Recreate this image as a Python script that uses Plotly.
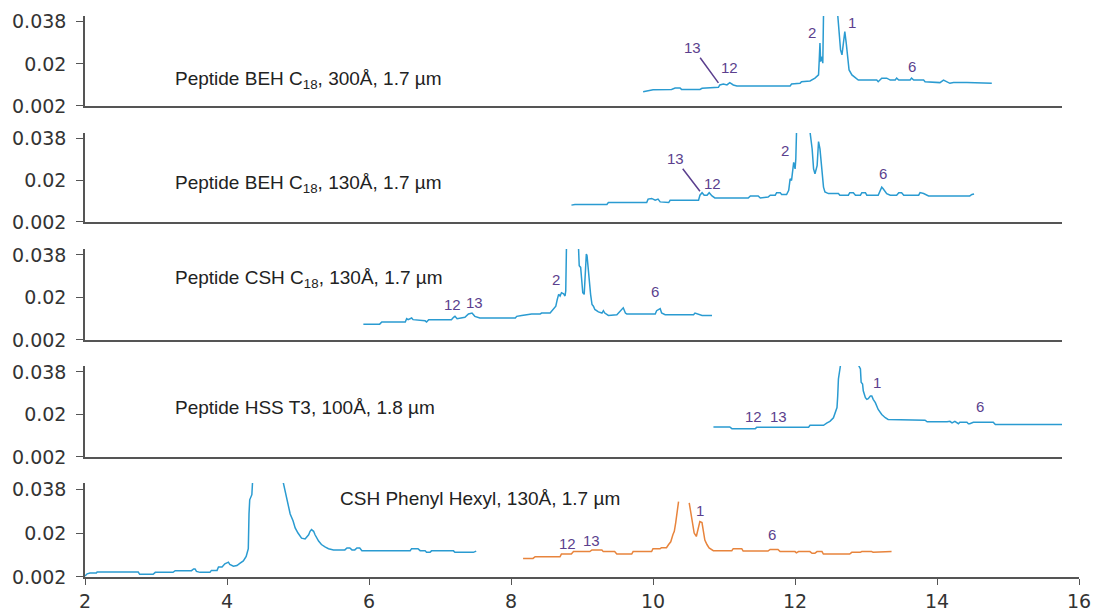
import plotly.graph_objects as go

TOP = 0.041  # signal runs off the top of the panel (clipped)

# Panel 1: Peptide BEH C18, 300Å
p1_x = [9.86, 9.93, 10.00, 10.26, 10.31, 10.38, 10.40, 10.66, 10.69, 10.92, 10.94, 10.99, 11.04, 11.08, 11.13, 11.18,
        11.93, 11.95, 12.07, 12.09, 12.21, 12.28, 12.33, 12.34, 12.35, 12.36, 12.38, 12.39, 12.40, None,
        12.60, 12.61, 12.62, 12.64, 12.66, 12.68, 12.70, 12.72, 12.74, 12.76, 12.80, 12.85, 12.89, 13.15, 13.17,
        13.22, 13.29, 13.34, 13.41, 13.43, 13.46, 13.62, 13.64, 13.67, 13.81, 13.83, 13.95, 14.04, 14.09, 14.14,
        14.18, 14.23, 14.32, 14.42, 14.77]
p1_y = [0.0081, 0.0086, 0.0089, 0.0091, 0.0097, 0.0097, 0.0091, 0.0091, 0.0096, 0.0100, 0.0110, 0.0114, 0.0110, 0.0120, 0.0110, 0.0106,
        0.0106, 0.0114, 0.0117, 0.0124, 0.0127, 0.0139, 0.0153, 0.0217, 0.0289, 0.0210, 0.0231, 0.0203, TOP, None,
        TOP, 0.0374, 0.0332, 0.0260, 0.0239, 0.0303, 0.0338, 0.0289, 0.0217, 0.0174, 0.0153, 0.0139, 0.0131, 0.0131, 0.0124,
        0.0139, 0.0139, 0.0131, 0.0131, 0.0139, 0.0131, 0.0131, 0.0139, 0.0131, 0.0131, 0.0124, 0.0120, 0.0120, 0.0131, 0.0124,
        0.0117, 0.0120, 0.0121, 0.0120, 0.0117]

# Panel 2: Peptide BEH C18, 130Å
p2_x = [8.85, 8.90, 9.35, 9.37, 9.91, 9.93, 9.98, 10.03, 10.07, 10.10, 10.22, 10.24, 10.64, 10.66, 10.69, 10.72, 10.76,
        10.79, 10.83, 10.87, 11.34, 11.37, 11.48, 11.51, 11.62, 11.65, 11.72, 11.74, 11.79, 11.81, 11.88, 11.91, 11.93,
        11.95, 11.98, 12.00, 12.01, 12.02, None, 12.21, 12.24, 12.26, 12.28, 12.31, 12.32, 12.33, 12.35, 12.38, 12.40,
        12.42, 12.47, 12.61, 12.63, 12.75, 12.77, 12.82, 12.85, 12.92, 12.94, 12.99, 13.01, 13.17, 13.20, 13.22, 13.24,
        13.29, 13.34, 13.43, 13.46, 13.50, 13.53, 13.74, 13.76, 13.81, 13.88, 14.46, 14.49, 14.52]
p2_y = [0.0093, 0.0096, 0.0096, 0.0104, 0.0104, 0.0119, 0.0122, 0.0114, 0.0119, 0.0107, 0.0104, 0.0114, 0.0114, 0.0136, 0.0147, 0.0136, 0.0136,
        0.0147, 0.0133, 0.0124, 0.0124, 0.0133, 0.0133, 0.0124, 0.0128, 0.0136, 0.0136, 0.0147, 0.0147, 0.0139, 0.0139, 0.0157, 0.0207,
        0.0200, 0.0278, 0.0250, 0.0293, TOP, None, TOP, 0.0336, 0.0250, 0.0229, 0.0264, 0.0336, 0.0368, 0.0336, 0.0221, 0.0171,
        0.0150, 0.0143, 0.0143, 0.0136, 0.0136, 0.0147, 0.0147, 0.0136, 0.0136, 0.0147, 0.0147, 0.0136, 0.0136, 0.0157, 0.0171, 0.0164,
        0.0143, 0.0136, 0.0136, 0.0147, 0.0147, 0.0136, 0.0136, 0.0147, 0.0143, 0.0133, 0.0133, 0.0139, 0.0141]

# Panel 3: Peptide CSH C18, 130Å
p3_x = [5.92, 6.15, 6.18, 6.51, 6.53, 6.55, 6.60, 6.62, 6.79, 6.81, 6.84, 7.16, 7.19, 7.21, 7.24, 7.28, 7.35, 7.40,
        7.45, 7.49, 7.56, 8.06, 8.08, 8.15, 8.20, 8.24, 8.29, 8.41, 8.43, 8.55, 8.60, 8.63, 8.65, 8.67, 8.69, 8.71,
        8.74, 8.76, 8.77, 8.78, None, 8.95, 8.96, 8.98, 9.00, 9.01, 9.03, 9.04, 9.06, 9.07, 9.09, 9.10, 9.12, 9.14,
        9.16, 9.18, 9.23, 9.28, 9.30, 9.32, 9.37, 9.49, 9.54, 9.58, 9.61, 9.63, 10.03, 10.05, 10.10, 10.12, 10.17,
        10.57, 10.59, 10.64, 10.69, 10.83]
p3_y = [0.0087, 0.0087, 0.0096, 0.0096, 0.0110, 0.0106, 0.0113, 0.0106, 0.0101, 0.0096, 0.0106, 0.0106, 0.0116, 0.0120, 0.0110, 0.0113, 0.0116, 0.0130,
        0.0134, 0.0120, 0.0113, 0.0113, 0.0120, 0.0124, 0.0127, 0.0127, 0.0130, 0.0130, 0.0134, 0.0134, 0.0153, 0.0163, 0.0191, 0.0213, 0.0206, 0.0220,
        0.0215, 0.0206, 0.0227, TOP, None, TOP, 0.0334, 0.0327, 0.0270, 0.0220, 0.0213, 0.0299, 0.0384, 0.0377, 0.0299, 0.0270, 0.0213, 0.0170,
        0.0163, 0.0149, 0.0139, 0.0134, 0.0144, 0.0134, 0.0124, 0.0127, 0.0144, 0.0156, 0.0134, 0.0130, 0.0130, 0.0144, 0.0153, 0.0134, 0.0127,
        0.0127, 0.0134, 0.0130, 0.0124, 0.0124]

# Panel 4: Peptide HSS T3, 100Å
p4_x = [10.85, 11.08, 11.11, 11.44, 11.46, 12.19, 12.21, 12.40, 12.45, 12.49, 12.54, 12.56, 12.59, 12.60, 12.61, 12.64,
        None, 12.89, 12.92, 12.93, 12.95, 12.96, 12.99, 13.01, 13.03, 13.06, 13.08, 13.10, 13.13, 13.17, 13.22, 13.27,
        13.31, 13.83, 13.86, 14.14, 14.18, 14.21, 14.25, 14.30, 14.32, 14.42, 14.44, 14.46, 14.51, 14.79, 14.82, 15.76]
p4_y = [0.0147, 0.0147, 0.0140, 0.0140, 0.0146, 0.0146, 0.0154, 0.0154, 0.0164, 0.0171, 0.0186, 0.0207, 0.0229, 0.0278, 0.0350, TOP,
        None, TOP, 0.0393, 0.0336, 0.0329, 0.0300, 0.0271, 0.0264, 0.0267, 0.0278, 0.0278, 0.0264, 0.0250, 0.0221, 0.0200, 0.0186,
        0.0179, 0.0176, 0.0169, 0.0169, 0.0171, 0.0164, 0.0171, 0.0161, 0.0167, 0.0167, 0.0161, 0.0161, 0.0167, 0.0167, 0.0157, 0.0157]

# Panel 5 (blue): CSH Phenyl Hexyl, first segment
p5a_x = [2.00, 2.03, 2.07, 2.16, 2.17, 2.75, 2.77, 2.96, 2.99, 3.24, 3.27, 3.50, 3.53, 3.55, 3.57, 3.62, 3.76, 3.78,
         3.86, 3.88, 3.93, 3.97, 4.02, 4.04, 4.09, 4.14, 4.18, 4.23, 4.27, 4.29, 4.30, 4.31, 4.32, 4.35, 4.36, None,
         4.79, 4.82, 4.84, 4.86, 4.89, 4.93, 4.96, 5.00, 5.05, 5.10, 5.15, 5.17, 5.19, 5.22, 5.24, 5.29, 5.33, 5.38,
         5.43, 5.50, 5.66, 5.69, 5.73, 5.76, 5.80, 5.83, 5.87, 5.90, 5.94, 5.97, 6.15, 6.18, 6.58, 6.60, 6.69, 6.72,
         6.79, 6.81, 6.86, 6.88, 7.19, 7.21, 7.38, 7.40, 7.47, 7.51]
p5a_y = [0.0024, 0.0033, 0.0036, 0.0036, 0.0040, 0.0040, 0.0031, 0.0031, 0.0039, 0.0039, 0.0046, 0.0046, 0.0053, 0.0053, 0.0043, 0.0039, 0.0039, 0.0047,
         0.0047, 0.0061, 0.0061, 0.0074, 0.0081, 0.0071, 0.0064, 0.0067, 0.0076, 0.0086, 0.0104, 0.0136, 0.0136, 0.0278, 0.0336, 0.0357, TOP, None,
         TOP, 0.0371, 0.0336, 0.0307, 0.0278, 0.0250, 0.0221, 0.0200, 0.0179, 0.0176, 0.0193, 0.0207, 0.0214, 0.0207, 0.0193, 0.0167, 0.0153, 0.0143,
         0.0136, 0.0131, 0.0131, 0.0139, 0.0139, 0.0131, 0.0131, 0.0139, 0.0139, 0.0128, 0.0128, 0.0131, 0.0131, 0.0128, 0.0128, 0.0136, 0.0136, 0.0128,
         0.0128, 0.0121, 0.0121, 0.0127, 0.0127, 0.0121, 0.0121, 0.0119, 0.0121, 0.0126]

# Panel 5 (orange): CSH Phenyl Hexyl, second segment
p5b_x = [8.17, 8.31, 8.34, 8.69, 8.71, 8.85, 8.88, 9.11, 9.14, 9.28, 9.30, 9.46, 9.49, 9.70, 9.72, 9.98, 10.00, 10.10,
         10.12, 10.19, 10.22, 10.25, 10.28, 10.30, 10.32, 10.34, 10.36, None, 10.51, 10.53, 10.56, 10.58, 10.61, 10.62,
         10.64, 10.66, 10.69, 10.71, 10.73, 10.76, 10.79, 10.85, 11.11, 11.13, 11.25, 11.27, 11.62, 11.65, 11.76, 11.79,
         12.00, 12.02, 12.05, 12.21, 12.24, 12.28, 12.31, 12.38, 12.40, 12.77, 12.80, 12.92, 12.94, 13.08, 13.10, 13.36]
p5b_y = [0.0096, 0.0096, 0.0103, 0.0103, 0.0114, 0.0114, 0.0124, 0.0124, 0.0131, 0.0131, 0.0124, 0.0124, 0.0114, 0.0114, 0.0124, 0.0124, 0.0136, 0.0136,
         0.0140, 0.0140, 0.0153, 0.0164, 0.0193, 0.0207, 0.0243, 0.0293, 0.0329, None, 0.0324, 0.0293, 0.0243, 0.0200, 0.0186, 0.0200,
         0.0229, 0.0247, 0.0243, 0.0207, 0.0171, 0.0153, 0.0139, 0.0128, 0.0128, 0.0136, 0.0136, 0.0126, 0.0126, 0.0133, 0.0133, 0.0124,
         0.0124, 0.0119, 0.0124, 0.0124, 0.0117, 0.0117, 0.0124, 0.0124, 0.0114, 0.0114, 0.0121, 0.0121, 0.0124, 0.0124, 0.0121, 0.0124]

panel_titles = ["Peptide BEH C<sub>18</sub>, 300Å, 1.7 µm",
                "Peptide BEH C<sub>18</sub>, 130Å, 1.7 µm",
                "Peptide CSH C<sub>18</sub>, 130Å, 1.7 µm",
                "Peptide HSS T3, 100Å, 1.8 µm",
                "CSH Phenyl Hexyl, 130Å, 1.7 µm"]
title_x = [3.24, 3.24, 3.24, 3.24, 5.56]
title_y = [0.0131, 0.0183, 0.0277, 0.0230, 0.0341]

# Peak labels: (panel, text, x, y)
peak_labels = [
    (1, "12", 11.08, 0.0183), (1, "2", 12.24, 0.0333), (1, "1", 12.80, 0.0376), (1, "6", 13.65, 0.0187),
    (2, "12", 10.83, 0.0187), (2, "2", 11.86, 0.0329), (2, "1", 12.42, 0.0427), (2, "6", 13.24, 0.0230),
    (3, "12", 7.17, 0.0170), (3, "13", 7.49, 0.0179), (3, "2", 8.63, 0.0277), (3, "1", 9.20, 0.0419), (3, "6", 10.03, 0.0226),
    (4, "12", 11.41, 0.0191), (4, "13", 11.76, 0.0191), (4, "1", 13.15, 0.0337), (4, "6", 14.61, 0.0234),
    (5, "12", 8.80, 0.0157), (5, "13", 9.14, 0.0170), (5, "1", 10.66, 0.0294), (5, "6", 11.68, 0.0196),
]
# Leader-line labels: (panel, text, label x, label y, point x, point y)
leader_labels = [(1, "13", 10.56, 0.0269, 10.92, 0.0119),
                 (2, "13", 10.31, 0.0294, 10.66, 0.0153)]

y_ticks = [0.002, 0.02, 0.038]
y_ticktext = ["0.002", "0.02", "0.038"]
x_ticks = [2, 4, 6, 8, 10, 12, 14, 16]

BLUE = "#2a9bd1"
ORANGE = "#e8843c"
PURPLE = "#5b3f8e"
AXIS = "#555555"

domains = [(0.8396, 1.0), (0.6328, 0.7914), (0.4225, 0.5847), (0.2139, 0.3761), (0.0, 0.1676)]

fig = go.Figure()
series = [(1, p1_x, p1_y, BLUE), (2, p2_x, p2_y, BLUE), (3, p3_x, p3_y, BLUE),
          (4, p4_x, p4_y, BLUE), (5, p5a_x, p5a_y, BLUE), (5, p5b_x, p5b_y, ORANGE)]
for panel, xs, ys, col in series:
    suffix = "" if panel == 1 else str(panel)
    fig.add_trace(go.Scatter(x=xs, y=ys, mode="lines", line=dict(color=col, width=1.5),
                             connectgaps=False, showlegend=False, hoverinfo="skip",
                             xaxis="x" + suffix, yaxis="y" + suffix))

layout = dict(width=1095, height=611, margin=dict(l=85, r=16, t=16, b=34, autoexpand=False),
              paper_bgcolor="white", plot_bgcolor="white", showlegend=False,
              font=dict(family="DejaVu Sans", size=19, color="#333333"))
upper_end = 15.76
for i in range(1, 6):
    suffix = "" if i == 1 else str(i)
    last = i == 5
    layout["xaxis" + suffix] = dict(
        domain=[0, 1] if last else [0, 0.983],
        range=[2, 16] if last else [2, upper_end],
        anchor="y" + suffix, showline=True, linecolor=AXIS, linewidth=2,
        showgrid=False, zeroline=False, automargin=False,
        ticks="outside" if last else "", ticklen=6, tickcolor=AXIS,
        tickvals=x_ticks if last else [], showticklabels=last,
        tickfont=dict(family="DejaVu Sans", size=19, color="#333333"))
    layout["yaxis" + suffix] = dict(
        domain=list(domains[i - 1]), range=[0.002, 0.0405], anchor="x" + suffix,
        showline=True, linecolor=AXIS, linewidth=1.5, showgrid=False, zeroline=False,
        automargin=False,
        ticks="outside", ticklen=7, tickcolor=AXIS, tickvals=y_ticks, ticktext=y_ticktext,
        ticklabelstandoff=6,
        tickfont=dict(family="DejaVu Sans", size=19, color="#333333"))
fig.update_layout(**layout)

annotations = []
for i, (t, tx, ty) in enumerate(zip(panel_titles, title_x, title_y), start=1):
    suffix = "" if i == 1 else str(i)
    annotations.append(dict(text=t, x=tx, y=ty, xref="x" + suffix, yref="y" + suffix,
                            xanchor="left", yanchor="middle", showarrow=False,
                            font=dict(family="Liberation Sans", size=19, color="#222222")))
for panel, t, tx, ty in peak_labels:
    suffix = "" if panel == 1 else str(panel)
    annotations.append(dict(text=t, x=tx, y=ty, xref="x" + suffix, yref="y" + suffix,
                            showarrow=False, font=dict(family="Liberation Sans", size=15, color=PURPLE)))
for panel, t, lx, ly, px, py in leader_labels:
    suffix = "" if panel == 1 else str(panel)
    annotations.append(dict(text=t, x=px, y=py, ax=lx, ay=ly, xref="x" + suffix, yref="y" + suffix,
                            axref="x" + suffix, ayref="y" + suffix, showarrow=True, arrowhead=0,
                            arrowwidth=1.5, arrowcolor=PURPLE, standoff=0,
                            font=dict(family="Liberation Sans", size=15, color=PURPLE)))
fig.update_layout(annotations=annotations)

fig.write_html("out.html", config={"displayModeBar": False},
               post_script="document.body.style.margin='0px';")
